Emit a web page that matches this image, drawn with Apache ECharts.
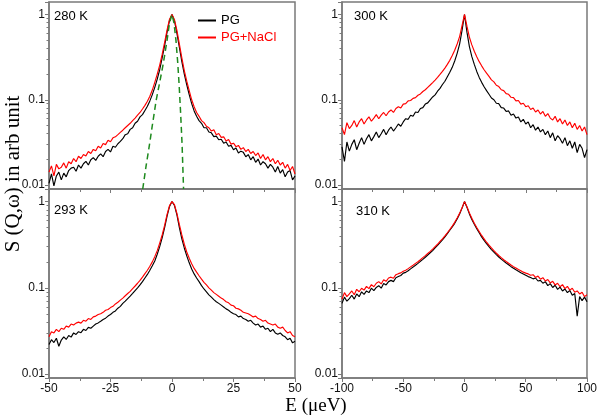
<!DOCTYPE html>
<html><head><meta charset="utf-8">
<script src="https://cdn.jsdelivr.net/npm/echarts@6/dist/echarts.min.js"></script>
<style>html,body{margin:0;padding:0;background:#fff}#c{width:600px;height:418px}</style>
</head><body><div id="c"></div>
<script>
// Energy grids (µeV)
const energyNarrow = [-50,-49,-48,-47,-46,-45,-44,-43,-42,-41,-40,-39,-38,-37,-36,-35,-34,-33,-32,-31,-30,-29,-28,-27,-26,-25,-24,-23,-22,-21,-20,-19,-18,-17,-16,-15,-14,-13,-12,-11,-10,-9,-8,-7,-6,-5,-4,-3,-2,-1,0,1,2,3,4,5,6,7,8,9,10,11,12,13,14,15,16,17,18,19,20,21,22,23,24,25,26,27,28,29,30,31,32,33,34,35,36,37,38,39,40,41,42,43,44,45,46,47,48,49,50];
const energyWide = [-100,-98,-96,-94,-92,-90,-88,-86,-84,-82,-80,-78,-76,-74,-72,-70,-68,-66,-64,-62,-60,-58,-56,-54,-52,-50,-48,-46,-44,-42,-40,-38,-36,-34,-32,-30,-28,-26,-24,-22,-20,-18,-16,-14,-12,-10,-8,-6,-4,-2,0,2,4,6,8,10,12,14,16,18,20,22,24,26,28,30,32,34,36,38,40,42,44,46,48,50,52,54,56,58,60,62,64,66,68,70,72,74,76,78,80,82,84,86,88,90,92,94,96,98,100];

// 280 K
const pg280 = [0.0105,0.0135,0.0098,0.0128,0.0142,0.0115,0.0138,0.0125,0.0148,0.0158,0.0162,0.0145,0.0172,0.0158,0.0178,0.019,0.0172,0.0198,0.021,0.0195,0.0218,0.0232,0.0215,0.0248,0.0262,0.0245,0.0285,0.0278,0.0305,0.0325,
0.035,0.039,0.04,0.045,0.047,0.053,0.056,0.063,0.067,0.075,0.084,0.097,0.115,0.14,0.175,0.225,0.31,0.43,0.62,0.85,
1.0,
0.84,0.6,0.41,0.28,0.2,0.15,0.115,0.09,0.074,0.064,0.057,0.053,0.047,0.047,0.042,0.041,0.037,0.0375,0.034,0.0345,0.031,0.032,0.0285,0.0292,0.026,0.0272,0.0238,0.025,0.0242,0.0215,0.0228,0.0198,0.0215,0.0185,0.0202,0.0172,0.0188,0.0178,0.0158,0.0175,0.0162,0.0142,0.0165,0.0138,0.0152,0.0125,0.0142,0.0148,0.0115,0.0128];
const nacl280 = [0.0142,0.0168,0.0128,0.0175,0.0155,0.0162,0.0182,0.0158,0.0188,0.0178,0.0205,0.0188,0.0218,0.0205,0.0228,0.022,0.0248,0.0235,0.0262,0.0252,0.0285,0.0272,0.0308,0.0298,0.0335,0.0322,0.0358,0.0368,0.039,0.0415,
0.044,0.047,0.05,0.053,0.057,0.061,0.066,0.071,0.078,0.086,0.096,0.11,0.13,0.16,0.2,0.255,0.34,0.47,0.66,0.88,
1.0,
0.87,0.65,0.45,0.31,0.22,0.165,0.128,0.1,0.083,0.071,0.064,0.057,0.054,0.049,0.047,0.043,0.0445,0.039,0.0402,0.0362,0.0368,0.0328,0.0342,0.0302,0.031,0.0282,0.0292,0.0262,0.0275,0.0248,0.0262,0.0235,0.0248,0.0222,0.0238,0.0205,0.0228,0.0198,0.0215,0.0188,0.0205,0.0178,0.0195,0.0172,0.0185,0.0158,0.0175,0.0148,0.0165,0.0135];
const gaussE = [-11.9,-10.5,-9.3,-8,-6.4,-5,-3.5,-2,-1,0,0.8,1.6,2.3,2.9,3.5,4.1,4.7];
const gaussV = [0.009,0.017,0.028,0.05,0.1,0.16,0.27,0.5,0.8,1.0,0.8,0.5,0.28,0.15,0.07,0.03,0.009];

// 293 K
const pg293 = [0.022,0.025,0.0232,0.026,0.021,0.0248,0.027,0.0252,0.028,0.0268,0.03,0.0288,0.031,0.0302,0.033,0.032,0.0348,0.034,0.036,0.038,0.0392,0.041,0.043,0.0445,0.047,0.049,0.052,0.054,0.058,0.061,0.066,0.07,0.075,0.08,0.086,0.093,0.1,0.108,0.118,0.13,0.143,0.16,0.18,0.205,0.245,0.3,0.38,0.5,0.68,0.88,
1.0,
0.9,0.7,0.5,0.37,0.29,0.235,0.195,0.165,0.145,0.13,0.118,0.106,0.097,0.09,0.083,0.078,0.073,0.069,0.066,0.063,0.06,0.057,0.055,0.052,0.05,0.049,0.046,0.047,0.044,0.043,0.041,0.042,0.039,0.037,0.038,0.035,0.036,0.033,0.034,0.031,0.033,0.03,0.029,0.03,0.028,0.027,0.025,0.026,0.023,0.024];
const nacl293 = [0.027,0.031,0.03,0.033,0.031,0.034,0.033,0.036,0.035,0.038,0.037,0.039,0.04,0.039,0.042,0.041,0.044,0.043,0.046,0.047,0.049,0.05,0.052,0.055,0.056,0.059,0.061,0.065,0.068,0.072,0.076,0.081,0.086,0.091,0.098,0.105,0.113,0.122,0.133,0.146,0.16,0.178,0.2,0.23,0.27,0.33,0.41,0.53,0.71,0.9,
1.0,
0.92,0.73,0.54,0.41,0.32,0.26,0.22,0.19,0.168,0.152,0.138,0.126,0.116,0.108,0.1,0.094,0.088,0.084,0.08,0.076,0.073,0.069,0.067,0.063,0.062,0.058,0.057,0.055,0.052,0.051,0.05,0.048,0.046,0.047,0.044,0.043,0.041,0.042,0.039,0.038,0.037,0.038,0.035,0.034,0.035,0.032,0.03,0.031,0.028,0.027];

// 300 K
const pg300 = [0.028,0.019,0.032,0.025,0.03,0.034,0.026,0.031,0.036,0.03,0.035,0.039,0.033,0.037,0.042,0.036,0.04,0.045,0.039,0.044,0.048,0.043,0.047,0.052,0.049,
0.055,0.06,0.059,0.066,0.064,0.072,0.071,0.079,0.081,0.089,0.092,0.1,0.108,0.114,0.126,0.136,0.151,0.165,0.186,0.21,0.24,0.285,0.35,0.45,0.65,
1.0,
0.62,0.42,0.32,0.26,0.215,0.183,0.16,0.142,0.128,0.116,0.105,0.1,0.091,0.09,0.081,0.08,0.073,0.074,0.066,0.068,0.061,0.063,0.055,0.059,0.052,0.055,0.047,0.051,0.044,0.048,0.042,0.045,0.039,0.043,0.036,0.041,0.033,0.038,0.035,0.031,0.036,0.029,0.033,0.027,0.032,0.024,0.03,0.027,0.021,0.026];
const nacl300 = [0.047,0.039,0.054,0.046,0.05,0.057,0.048,0.055,0.06,0.052,0.058,0.063,0.056,0.061,0.067,0.06,0.066,0.071,0.065,0.072,0.076,0.071,0.079,0.083,0.08,
0.089,0.09,0.097,0.098,0.104,0.106,0.113,0.117,0.125,0.131,0.14,0.149,0.159,0.17,0.183,0.198,0.215,0.235,0.26,0.29,0.33,0.38,0.45,0.55,0.74,
1.0,
0.73,0.54,0.44,0.37,0.32,0.28,0.25,0.225,0.205,0.188,0.171,0.162,0.148,0.143,0.131,0.128,0.118,0.116,0.107,0.106,0.097,0.098,0.089,0.091,0.083,0.085,0.077,0.08,0.072,0.076,0.068,0.073,0.064,0.069,0.061,0.058,0.064,0.055,0.06,0.052,0.058,0.05,0.055,0.047,0.053,0.045,0.05,0.043,0.048,0.039];

// 310 K
const pg310 = [0.066,0.078,0.07,0.075,0.082,0.074,0.085,0.079,0.09,0.084,0.092,0.088,0.099,0.093,0.101,0.106,0.099,0.112,0.108,0.118,0.122,0.118,0.131,0.135,0.139,
0.148,0.151,0.158,0.166,0.174,0.183,0.192,0.203,0.214,0.226,0.24,0.255,0.27,0.29,0.31,0.335,0.36,0.39,0.425,0.465,0.51,0.56,0.63,0.72,0.84,
1.0,
0.86,0.72,0.62,0.545,0.485,0.435,0.39,0.355,0.325,0.3,0.278,0.26,0.243,0.228,0.215,0.204,0.194,0.185,0.176,0.169,0.162,0.156,0.15,0.145,0.14,
0.135,0.132,0.127,0.13,0.12,0.122,0.113,0.118,0.106,0.112,0.101,0.107,0.096,0.102,0.092,0.097,0.088,0.093,0.082,0.086,0.047,0.079,0.071,0.078,0.069];
const nacl310 = [0.074,0.088,0.079,0.085,0.092,0.083,0.096,0.09,0.099,0.094,0.104,0.098,0.109,0.103,0.113,0.118,0.111,0.124,0.119,0.13,0.133,0.129,0.142,0.146,0.149,
0.156,0.16,0.167,0.175,0.183,0.192,0.201,0.212,0.224,0.236,0.25,0.265,0.281,0.3,0.32,0.345,0.37,0.4,0.435,0.475,0.52,0.575,0.645,0.73,0.85,
1.0,
0.87,0.74,0.64,0.56,0.5,0.45,0.405,0.37,0.338,0.312,0.29,0.27,0.252,0.237,0.224,0.212,0.202,0.193,0.184,0.176,0.17,0.163,0.158,0.152,0.148,
0.145,0.14,0.142,0.132,0.137,0.126,0.131,0.12,0.125,0.114,0.119,0.108,0.113,0.103,0.109,0.098,0.104,0.094,0.099,0.089,0.092,0.085,0.089,0.079,0.083];

const panelLabels = ['280 K', '300 K', '293 K', '310 K'];
const decadeLabels = ['0.01', '0.1', '1'];
const minorTickValues = [0.02,0.03,0.04,0.05,0.06,0.07,0.08,0.09,0.2,0.3,0.4,0.5,0.6,0.7,0.8,0.9];

function pairs(xs, ys) {
  if (xs.length !== ys.length) throw new Error('length mismatch ' + xs.length + ' vs ' + ys.length);
  return xs.map((x, i) => [x, ys[i]]);
}

const AX = '#7a7a7a';
const FONT = 'Liberation Sans, Arial, sans-serif';
const grids = [
  {left: 49, top: 2, width: 246, height: 187},
  {left: 342, top: 2, width: 245, height: 187},
  {left: 49, top: 189, width: 246, height: 189},
  {left: 342, top: 189, width: 245, height: 189}
].map(g => Object.assign(g, {show: true, borderColor: AX, borderWidth: 1.5, containLabel: false}));

const xRanges = [[-50, 50, 25], [-100, 100, 50], [-50, 50, 25], [-100, 100, 50]];
const xAxes = xRanges.map((r, i) => ({
  type: 'value', gridIndex: i, min: r[0], max: r[1], interval: r[2], position: 'bottom',
  axisLine: {show: true, onZero: false, lineStyle: {color: AX, width: 1.5}},
  axisTick: {show: true, length: 4, lineStyle: {color: AX, width: 1}},
  minorTick: {show: true, splitNumber: 2, length: 3, lineStyle: {color: AX, width: 1}},
  axisLabel: {show: i >= 2, fontSize: 12, color: '#111', fontFamily: FONT, margin: 5},
  splitLine: {show: false}, minorSplitLine: {show: false}
}));

function decadeFormatter(v) {
  const e = Math.log10(v);
  const r = Math.round(e);
  if (Math.abs(e - r) < 1e-6 && r >= -2 && r <= 0) return decadeLabels[r + 2];
  return '';
}
const yAxes = [];
for (let i = 0; i < 4; i++) {
  yAxes.push({
    type: 'log', logBase: 10, gridIndex: i, min: 0.009, max: 1.4, position: 'left',
    axisLine: {show: true, onZero: false, lineStyle: {color: AX, width: 1.5}},
    axisTick: {show: true, length: 4, lineStyle: {color: AX, width: 1}},
    axisLabel: {fontSize: 12, color: '#111', fontFamily: FONT, margin: 4, formatter: decadeFormatter},
    splitLine: {show: false}
  });
}
for (let i = 0; i < 4; i++) {
  yAxes.push({
    type: 'log', logBase: 10, gridIndex: i, min: 0.009, max: 1.4, position: 'left',
    axisLine: {show: false, onZero: false},
    axisTick: {show: true, length: 2.5, customValues: minorTickValues, lineStyle: {color: AX, width: 1}},
    axisLabel: {show: false},
    splitLine: {show: false}
  });
}

function lineSeries(name, xs, ys, idx, color) {
  return {
    name: name, type: 'line', xAxisIndex: idx, yAxisIndex: idx,
    data: pairs(xs, ys), showSymbol: false, symbol: 'none', clip: true,
    lineStyle: {color: color, width: 1.15}, itemStyle: {color: color},
    emphasis: {disabled: true}, z: color === '#ff0000' ? 3 : 2
  };
}

const series = [
  lineSeries('PG', energyNarrow, pg280, 0, '#000000'),
  lineSeries('PG+NaCl', energyNarrow, nacl280, 0, '#ff0000'),
  {
    name: 'Resolution', type: 'line', xAxisIndex: 0, yAxisIndex: 0,
    data: pairs(gaussE, gaussV), showSymbol: false, symbol: 'none', clip: true, z: 4,
    lineStyle: {color: '#1e8a1e', width: 1.5, type: [6, 4]}
  },
  lineSeries('PG', energyWide, pg300, 1, '#000000'),
  lineSeries('PG+NaCl', energyWide, nacl300, 1, '#ff0000'),
  lineSeries('PG', energyNarrow, pg293, 2, '#000000'),
  lineSeries('PG+NaCl', energyNarrow, nacl293, 2, '#ff0000'),
  lineSeries('PG', energyWide, pg310, 3, '#000000'),
  lineSeries('PG+NaCl', energyWide, nacl310, 3, '#ff0000')
];

const labelPos = [[54, 16.5], [354, 16], [54, 210.5], [356, 211.5]];
const graphic = panelLabels.map((t, i) => ({
  type: 'text', x: labelPos[i][0], y: labelPos[i][1], silent: true,
  style: {text: t, fill: '#000', font: '13px ' + FONT, textAlign: 'left', textVerticalAlign: 'middle'}
}));
graphic.push({
  type: 'text', x: 316, y: 406, silent: true,
  style: {text: 'E (\u03bceV)', fill: '#000', font: '19px Liberation Serif, Times New Roman, serif', textAlign: 'center', textVerticalAlign: 'middle'}
});
graphic.push({
  type: 'text', x: 13, y: 174, rotation: Math.PI / 2, silent: true,
  style: {text: 'S (Q,\u03c9) in arb unit', fill: '#000', font: '21px Liberation Serif, Times New Roman, serif', textAlign: 'center', textVerticalAlign: 'middle'}
});

const chart = echarts.init(document.getElementById('c'), null, {renderer: 'canvas'});
chart.setOption({
  animation: false,
  backgroundColor: '#ffffff',
  grid: grids,
  xAxis: xAxes,
  yAxis: yAxes,
  legend: {
    data: [{name: 'PG', textStyle: {color: '#000'}}, {name: 'PG+NaCl', textStyle: {color: '#ff0000'}}],
    orient: 'vertical', left: 198, top: 14, itemWidth: 18, itemHeight: 2, itemGap: 4, icon: 'rect',
    padding: 0, selectedMode: false,
    textStyle: {fontSize: 13, fontFamily: FONT}
  },
  series: series,
  graphic: graphic
});
</script>
</body></html>
